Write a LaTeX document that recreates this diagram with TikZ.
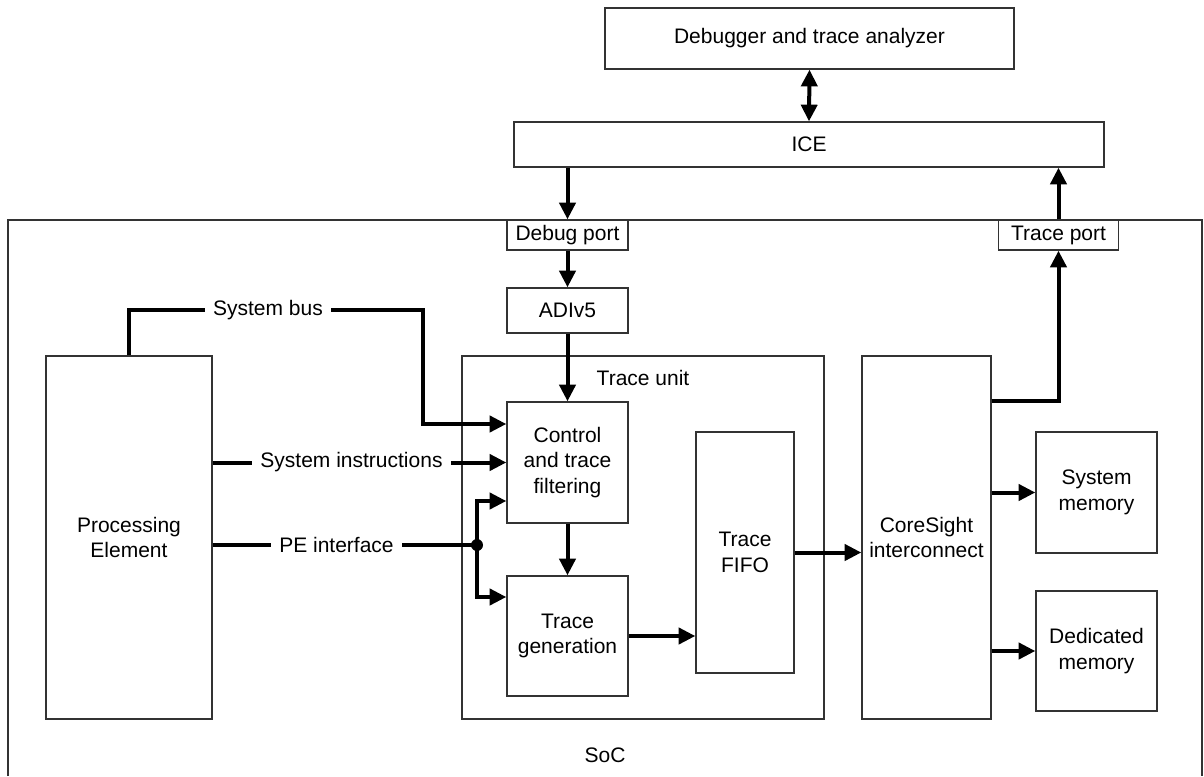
\documentclass[tikz,border=0pt]{standalone}
\usepackage{fontspec}
\setmainfont{Liberation Sans}
\usetikzlibrary{arrows.meta,calc}
\begin{document}
\begin{tikzpicture}[x=0.75pt,y=-0.75pt,
  every node/.style={font=\fontsize{15.75}{19.1}\selectfont},
  box/.style={draw=black!80,line width=1pt,fill=white,inner sep=0pt,align=center},
  arr/.style={line width=3pt,-{Triangle[length=12.5pt,width=12pt]}},
  darr/.style={line width=3pt,{Triangle[length=12.5pt,width=12pt]}-{Triangle[length=12.5pt,width=12pt]}},
  wire/.style={line width=3pt},
  lbl/.style={fill=white,inner xsep=6pt,inner ysep=2pt},
  plain/.style={inner sep=0pt}
]
\useasboundingbox (0,0) rectangle (1204,776);
% SoC container
\draw[draw=black!80,line width=1pt] (8,776) -- (8,220) -- (1202,220) -- (1202,776);
\node[plain] (soc) at (605,755) {SoC};

% top boxes
\node[box,minimum width=306.75pt,minimum height=45.75pt] (dbg) at (809.5,38.5) {Debugger and trace analyzer};
\node[box,minimum width=442.5pt,minimum height=33.75pt] (ice) at (809,144.5) {ICE};
\node[box,minimum width=90.75pt,minimum height=22.5pt] (dport) at (567.5,235) {Debug port};
\node[box,minimum width=90pt,minimum height=22.5pt] (tport) at (1058.5,235) {Trace port};
\node[box,minimum width=90.75pt,minimum height=33.75pt] (adiv) at (567.5,310.5) {ADIv5};

% main blocks
\node[box,minimum width=124.5pt,minimum height=272.25pt] (pe) at (129,537.5) {Processing\\Element};
\node[box,minimum width=271.5pt,minimum height=272.25pt] (tu) at (643,537.5) {};
\node[plain] (tulabel) at (643,378) {Trace unit};
\node[box,minimum width=90.75pt,minimum height=90.75pt] (ctrl) at (567.5,462.5) {Control\\and trace\\filtering};
\node[box,minimum width=90.75pt,minimum height=90pt] (gen) at (567.5,636) {Trace\\generation};
\node[box,minimum width=73.5pt,minimum height=180.75pt] (fifo) at (745,552.5) {Trace\\FIFO};
\node[box,minimum width=96.75pt,minimum height=272.25pt] (cs) at (926.5,537.5) {CoreSight\\interconnect};
\node[box,minimum width=90.75pt,minimum height=90.75pt] (smem) at (1096.5,492.5) {System\\memory};
\node[box,minimum width=90.75pt,minimum height=90pt] (dmem) at (1096.5,651) {Dedicated\\memory};

% debug path
\draw[darr] (dbg.south) -- (ice.north);
\draw[arr] (ice.south -| dport.north) -- (dport.north);
\draw[arr] (dport.south) -- (adiv.north);
\draw[arr] (adiv.south) -- (ctrl.north);

% trace output path
\draw[arr] (cs.east |- 0,401) -| (tport.south);
\draw[arr] (tport.north) -- (ice.south -| tport.north);

% system bus
\draw[arr] (pe.north) |- (423,310) -- (423,424) -- (ctrl.west |- 0,424);
\node[lbl] (sbus) at (268,310) {System bus};

% system instructions
\draw[arr] (pe.east |- ctrl.west) -- (ctrl.west);
\node[lbl] (sinstr) at (351.5,462.5) {System instructions};

% PE interface
\coordinate (dot) at (477,545);
\draw[wire] (pe.east |- dot) -- (dot);
\node[lbl] (peif) at (336.5,545) {PE interface};
\draw[arr] (dot) |- (ctrl.west |- 0,501);
\draw[arr] (dot) |- (gen.west |- 0,597);
\fill (dot) circle (4.5pt);

% internal trace flow
\draw[arr] (ctrl.south) -- (gen.north);
\draw[arr] (gen.east) -- (fifo.west |- gen.east);
\draw[arr] (fifo.east) -- (cs.west |- fifo.east);
\draw[arr] (cs.east |- smem.west) -- (smem.west);
\draw[arr] (cs.east |- dmem.west) -- (dmem.west);
\end{tikzpicture}
\end{document}
